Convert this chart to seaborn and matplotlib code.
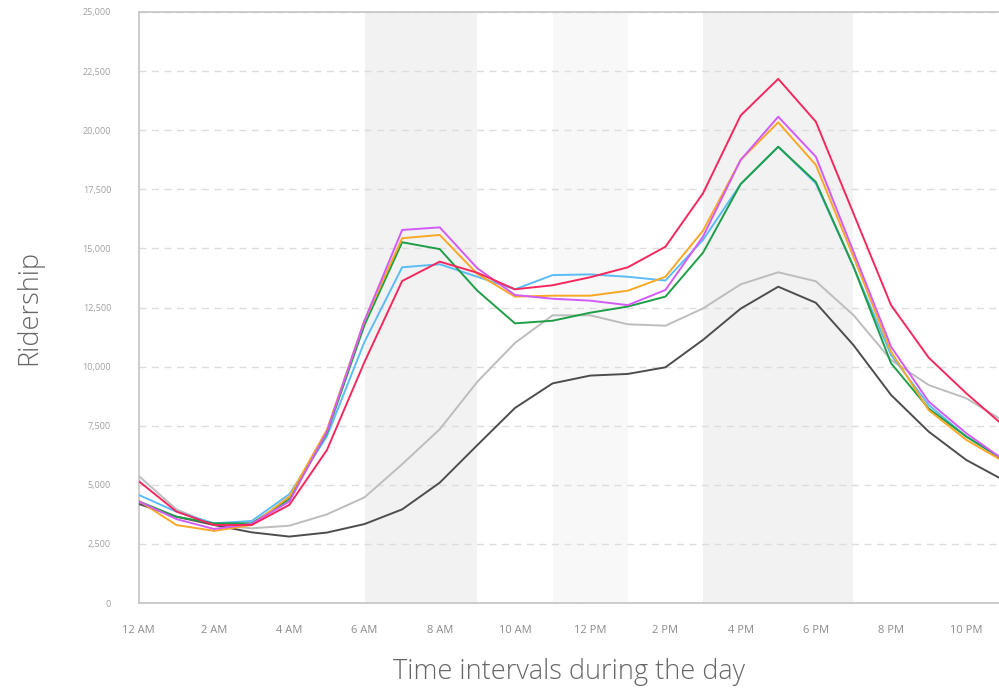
import pandas as pd
import matplotlib
matplotlib.use("Agg")
import matplotlib.pyplot as plt
import seaborn as sns

# Hourly ridership, one list per day line
hours = list(range(24))
hour_labels = ["12 AM", "2 AM", "4 AM", "6 AM", "8 AM", "10 AM",
               "12 PM", "2 PM", "4 PM", "6 PM", "8 PM", "10 PM"]

monday = [5150, 3870, 3300, 3300, 4150, 6470, 10200, 13620, 14440, 13970, 13270, 13440,
          13780, 14200, 15070, 17330, 20620, 22170, 20360, 16480, 12600, 10380, 8870, 7490]
tuesday = [4300, 3550, 3130, 3350, 4290, 7250, 11950, 15780, 15890, 14160, 13030, 12870,
           12790, 12600, 13240, 15500, 18740, 20570, 18880, 14860, 10840, 8520, 7180, 6050]
wednesday = [4320, 3300, 3050, 3300, 4500, 7330, 11950, 15430, 15570, 13920, 12960, 13000,
             13000, 13210, 13800, 15750, 18740, 20330, 18530, 14650, 10630, 8160, 6900, 5980]
thursday = [4300, 3650, 3370, 3370, 4390, 7190, 11760, 15260, 14970, 13210, 11830, 11940,
            12280, 12540, 12960, 14820, 17720, 19300, 17810, 14230, 10140, 8230, 7040, 6050]
friday = [4570, 3860, 3370, 3470, 4600, 7050, 11050, 14200, 14330, 13800, 13270, 13870,
          13900, 13800, 13640, 15360, 17720, 19300, 17750, 14230, 10490, 8380, 7040, 6050]
saturday = [5370, 3960, 3300, 3160, 3270, 3750, 4470, 5870, 7350, 9360, 11000, 12170,
            12170, 11790, 11730, 12460, 13480, 13990, 13610, 12180, 10280, 9220, 8660, 7690]
sunday = [4190, 3650, 3300, 2990, 2810, 2980, 3340, 3960, 5090, 6680, 8250, 9290,
          9620, 9690, 9970, 11130, 12450, 13380, 12700, 10910, 8800, 7250, 6050, 5190]

days = {"Mon": monday, "Tue": tuesday, "Wed": wednesday, "Thu": thursday,
        "Fri": friday, "Sat": saturday, "Sun": sunday}
colors = {"Mon": "#f5285e", "Tue": "#d35bf7", "Wed": "#f9a825", "Thu": "#1f9e48",
          "Fri": "#5bbcf8", "Sat": "#bdbdbd", "Sun": "#4d4d4d"}
draw_order = ["Sat", "Sun", "Fri", "Thu", "Wed", "Tue", "Mon"]

df = pd.concat(
    [pd.DataFrame({"hour": hours, "riders": days[d], "day": d}) for d in draw_order],
    ignore_index=True,
)

sns.set_style("white")
plt.rcParams["font.family"] = ["Open Sans", "DejaVu Sans"]

fig = plt.figure(figsize=(9.99, 6.89), dpi=100)
ax = fig.add_axes([0.139, 0.1248, 0.861, 0.8578])

# peak-period shading
ax.axvspan(6, 9, color="#f2f2f2", zorder=0, lw=0)
ax.axvspan(11, 13, color="#f8f8f8", zorder=0, lw=0)
ax.axvspan(15, 19, color="#f2f2f2", zorder=0, lw=0)

sns.lineplot(data=df, x="hour", y="riders", hue="day", palette=colors,
             hue_order=draw_order, linewidth=1.4, legend=False, ax=ax, zorder=3)

ax.set_xlim(0, 22.87)
ax.set_ylim(0, 25000)
ax.set_xticks(range(0, 24, 2))
ax.set_xticklabels(hour_labels, color="#8c8c8c", fontsize=8)
ax.set_yticks(range(0, 25001, 2500))
ax.set_yticklabels([f"{v:,}" for v in range(0, 25001, 2500)],
                   color="#a0a0a0", fontsize=6.5)
ax.tick_params(axis="x", length=0, pad=16)
ax.tick_params(axis="y", length=0, pad=20)

ax.yaxis.grid(True, linestyle=(0, (5, 4)), color="#dddddd", linewidth=1, zorder=1)
ax.xaxis.grid(False)
ax.set_axisbelow(True)

for side in ["left", "bottom", "top"]:
    ax.spines[side].set_color("#c4c4c4")
    ax.spines[side].set_linewidth(1.2)
ax.spines["right"].set_visible(False)

ax.set_xlabel("Time intervals during the day", fontsize=19.5, color="#666666",
              fontweight="light", labelpad=16)
ax.set_ylabel("Ridership", fontsize=19.5, color="#666666", fontweight="light", labelpad=28)

fig.savefig("out.png", dpi=100, facecolor="white")
